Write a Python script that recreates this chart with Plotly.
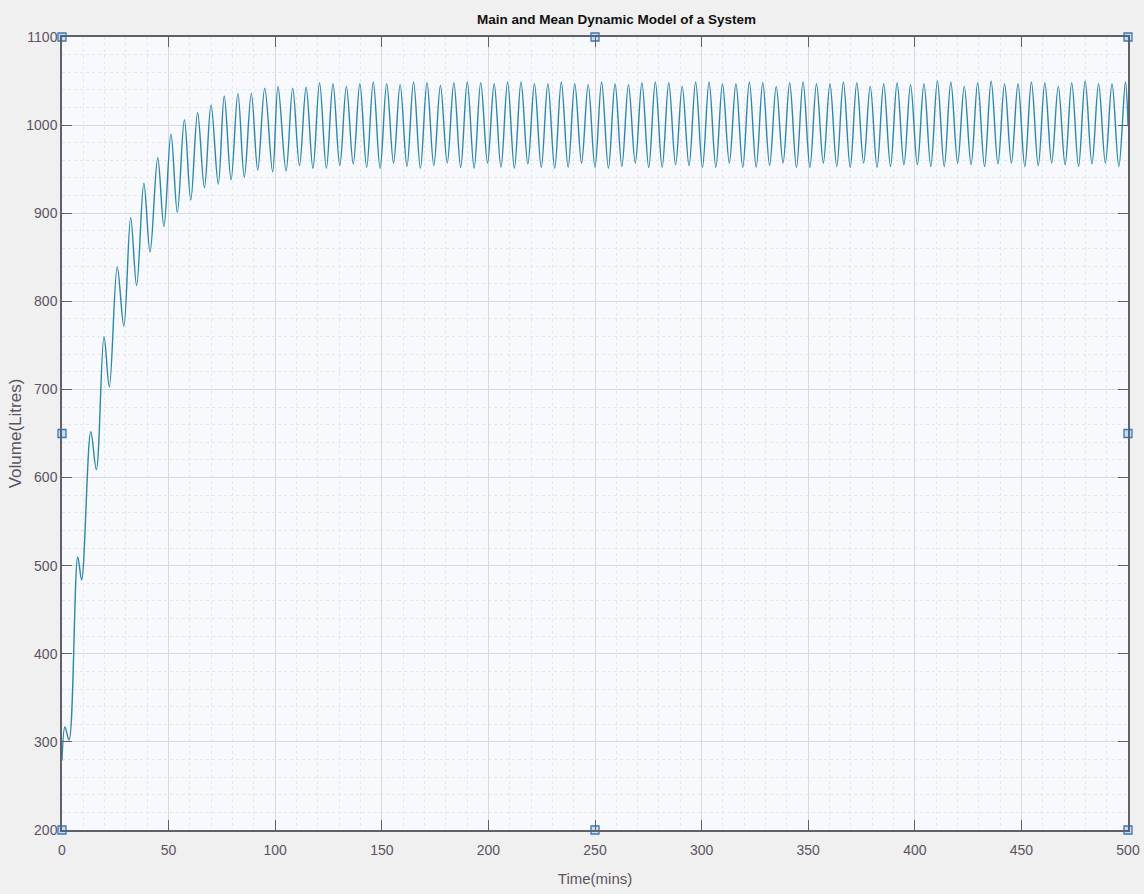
import plotly.graph_objects as go

# ---- data ----
start_t, start_v = 0.0, 279
end_t, end_v = 500.0, 1000

peak_t = [1.4, 7.4, 13.5, 19.7, 25.9, 32.2, 38.4, 44.9, 51.1, 57.4, 63.6, 69.9, 76.1, 82.5, 88.8, 95.1, 101.3,
          108.2, 114.5, 120.8, 127.1, 133.4, 139.7, 146.0, 152.3, 158.6, 164.9, 171.2, 177.5, 183.8, 190.1, 196.4,
          202.7, 209.0, 215.3, 221.6, 227.9, 234.2, 240.5, 246.8, 253.1, 259.4, 265.7, 272.0, 278.3, 284.6, 290.9,
          297.2, 303.5, 309.8, 316.1, 322.4, 328.7, 335.0, 341.3, 347.6, 353.9, 360.2, 366.5, 372.8, 379.1, 385.4,
          391.7, 398.0, 404.3, 410.6, 416.9, 423.2, 429.5, 435.8, 442.1, 448.4, 454.7, 461.0, 467.3, 473.6, 479.9,
          486.2, 492.5, 498.8]
peak_v = [317, 510, 652, 760, 839, 895, 934, 963, 990, 1006,
          1014, 1023, 1033, 1036, 1036, 1042, 1044, 1042, 1043, 1048,
          1047, 1044, 1047,
          1049, 1047, 1046, 1049, 1048, 1045, 1048, 1049, 1048, 1047, 1049, 1049, 1047, 1047, 1049, 1047, 1046, 1049, 1047,
          1046, 1048, 1049, 1048, 1044, 1049, 1049, 1047, 1047, 1049, 1048, 1044, 1048, 1049, 1047, 1047, 1049, 1048, 1044,
          1047, 1048,
          1046, 1047, 1050, 1049, 1044, 1048, 1050, 1047, 1047, 1049, 1048, 1044, 1048, 1050, 1047, 1047, 1049]

trough_t = [3.3, 9.2, 16.1, 22.2, 29.0, 35.0, 41.3, 47.8, 54.1, 60.4, 66.8, 73.3, 79.3, 85.5, 91.8,
            98.8, 105.1, 111.4, 117.7, 124.0, 130.3, 136.6, 142.9, 149.2, 155.5, 161.8, 168.1, 174.4, 180.7,
            187.0, 193.3, 199.6, 205.9, 212.2, 218.5, 224.8, 231.1, 237.4, 243.7, 250.0, 256.3, 262.6, 268.9,
            275.2, 281.5, 287.8, 294.1, 300.4, 306.7, 313.0, 319.3, 325.6, 331.9, 338.2, 344.5, 350.8, 357.1,
            363.4, 369.7, 376.0, 382.3, 388.6, 394.9, 401.2, 407.5, 413.8, 420.1, 426.4, 432.7, 439.0, 445.3,
            451.6, 457.9, 464.2, 470.5, 476.8, 483.1, 489.4, 495.7]
trough_v = [302, 484, 609, 703, 772, 818, 856, 885, 901, 915,
            929, 933, 938, 941, 949, 947, 948, 954, 951, 951,
            954, 956,
            952, 951, 957, 953, 951, 954, 957, 952, 951, 957, 952, 951, 956, 952, 951, 952, 957, 952, 951,
            953,
            957, 952, 952, 955, 954, 952, 952, 957, 952, 952, 954, 957, 952, 952, 957, 953, 952, 957, 952,
            953,
            955, 955, 953, 953, 957, 955, 953, 956, 957, 953, 954, 957, 955, 953, 956, 957, 953]

x_ticks = [0, 50, 100, 150, 200, 250, 300, 350, 400, 450, 500]
y_ticks = [200, 300, 400, 500, 600, 700, 800, 900, 1000, 1100]
x_range = [0, 500]
y_range = [200, 1100]

# ---- assemble series ----
t = [start_t]
v = [start_v]
for i in range(len(peak_t)):
    t.append(peak_t[i]); v.append(peak_v[i])
    if i < len(trough_t):
        t.append(trough_t[i]); v.append(trough_v[i])
t.append(end_t); v.append(end_v)

text_col = '#5e5262'
axis_col = '#606068'
font_main = 'Liberation Sans, Arial, sans-serif'

fig = go.Figure()
fig.add_trace(go.Scatter(x=t, y=v, mode='lines',
                         line=dict(color='#2d87aa', width=1.4, shape='spline', smoothing=1.0),
                         showlegend=False, hoverinfo='x+y'))

# selection handles (figure-editing squares) at axis corners / midpoints
xm = (x_range[0] + x_range[1]) / 2
ym = (y_range[0] + y_range[1]) / 2
hx = [x_range[0], xm, x_range[1], x_range[0], x_range[1], x_range[0], xm, x_range[1]]
hy = [y_range[1], y_range[1], y_range[1], ym, ym, y_range[0], y_range[0], y_range[0]]
fig.add_trace(go.Scatter(x=hx, y=hy, mode='markers', cliponaxis=False,
                         marker=dict(symbol='square', size=8, color='#c4def4',
                                     line=dict(color='#3a78b8', width=1.3)),
                         showlegend=False, hoverinfo='skip'))

fig.update_layout(
    width=1144, height=894,
    margin=dict(l=62, r=16, t=37, b=64),
    paper_bgcolor='#f0f0f0',
    plot_bgcolor='#f7f9fc',
    title=dict(text='<b>Main and Mean Dynamic Model of a System</b>',
               x=(62 + 1128) / 2 / 1144, xanchor='center', xref='paper',
               y=1 - 19 / 894, yanchor='middle', yref='container',
               font=dict(family=font_main, size=13.5, color='#111111')),
    font=dict(family=font_main, color=text_col),
)

fig.update_xaxes(
    range=x_range, tickvals=x_ticks, ticktext=[str(x) for x in x_ticks],
    showline=True, linecolor=axis_col, linewidth=1.5, mirror='ticks',
    ticks='inside', ticklen=10, tickcolor=axis_col, tickwidth=1,
    tickfont=dict(family=font_main, size=14, color=text_col),
    ticklabelstandoff=6,
    showgrid=True, gridcolor='#d6d9de', gridwidth=1,
    minor=dict(dtick=10, showgrid=True, gridcolor='#e4e7eb', griddash='dot', ticks=''),
    zeroline=False,
    title=dict(text='Time(mins)', font=dict(family=font_main, size=15, color=text_col), standoff=17),
    automargin=False,
)
fig.update_yaxes(
    range=y_range, tickvals=y_ticks, ticktext=[str(y) for y in y_ticks],
    showline=True, linecolor=axis_col, linewidth=1.5, mirror='ticks',
    ticks='inside', ticklen=10, tickcolor=axis_col, tickwidth=1,
    tickfont=dict(family=font_main, size=14, color=text_col),
    showgrid=True, gridcolor='#d6d9de', gridwidth=1,
    minor=dict(dtick=20, showgrid=True, gridcolor='#e4e7eb', griddash='dot', ticks=''),
    zeroline=False,
    title=dict(text='Volume(Litres)', font=dict(family=font_main, size=17, color=text_col), standoff=0),
    automargin=False,
)

fig.write_html('out.html', config={'displayModeBar': False},
               post_script="document.body.style.margin='0';document.body.style.background='#f0f0f0';")
